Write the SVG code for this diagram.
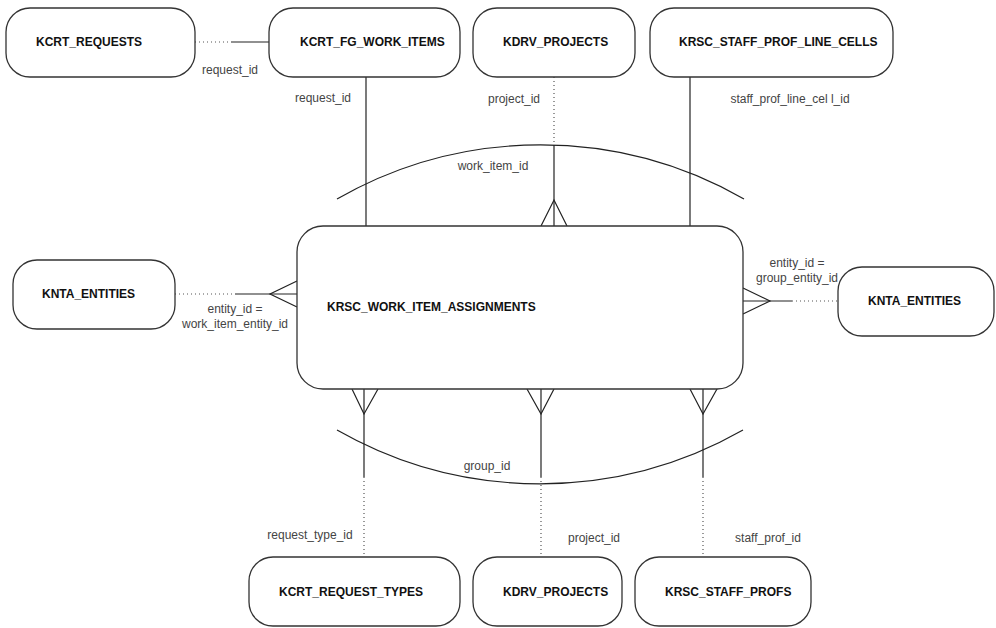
<svg xmlns="http://www.w3.org/2000/svg" width="996" height="628" viewBox="0 0 996 628">
<style>
.box{fill:#fff;stroke:#333;stroke-width:1.3}
.nt{font-family:"Liberation Sans",Arial,sans-serif;font-size:12px;font-weight:bold;fill:#111}
.lb{font-family:"Liberation Sans",Arial,sans-serif;font-size:12px;fill:#444}
.s{stroke:#222;stroke-width:1.2;fill:none}
.d{stroke:#555;stroke-width:1.2;fill:none;stroke-dasharray:1 3}
</style>
<rect width="996" height="628" fill="#fff"/>
<g id="connectors">
<line class="d" x1="195" y1="42" x2="231" y2="42"/>
<line class="s" x1="231" y1="42" x2="269" y2="42"/>
<line class="s" x1="366" y1="77" x2="366" y2="226"/>
<line class="d" x1="554" y1="77" x2="554" y2="145"/>
<line class="s" x1="554" y1="145" x2="554" y2="226"/>
<polyline class="s" points="541,226 554,200 567,226"/>
<line class="s" x1="690" y1="77" x2="690" y2="226"/>
<path class="s" d="M337,199 A410,410 0 0 1 744,199"/>
<line class="d" x1="175" y1="294" x2="235" y2="294"/>
<line class="s" x1="235" y1="294" x2="297" y2="294"/>
<polyline class="s" points="297,281 270,294 297,307"/>
<line class="s" x1="743" y1="301" x2="792" y2="301"/>
<line class="d" x1="792" y1="301" x2="838" y2="301"/>
<polyline class="s" points="743,288 770,301 743,314"/>
<line class="s" x1="364" y1="389" x2="364" y2="477"/>
<line class="d" x1="364" y1="477" x2="364" y2="557"/>
<polyline class="s" points="352,389 364,414 378,389"/>
<line class="s" x1="541" y1="389" x2="541" y2="477"/>
<line class="d" x1="541" y1="477" x2="541" y2="557"/>
<polyline class="s" points="527,389 541,414 554,389"/>
<line class="s" x1="703" y1="389" x2="703" y2="477"/>
<line class="d" x1="703" y1="477" x2="703" y2="557"/>
<polyline class="s" points="690,389 703,414 717,389"/>
<path class="s" d="M337,430 A410,410 0 0 0 743,430"/>
<text class="lb" x="230" y="74" text-anchor="middle">request_id</text>
<text class="lb" x="323" y="102" text-anchor="middle">request_id</text>
<text class="lb" x="514" y="103" text-anchor="middle">project_id</text>
<text class="lb" x="790" y="103" text-anchor="middle">staff_prof_line_cel l_id</text>
<text class="lb" x="493" y="170" text-anchor="middle">work_item_id</text>
<text class="lb" x="235" y="313" text-anchor="middle">entity_id =</text>
<text class="lb" x="235" y="328" text-anchor="middle">work_item_entity_id</text>
<text class="lb" x="797" y="267" text-anchor="middle">entity_id =</text>
<text class="lb" x="797" y="282" text-anchor="middle">group_entity_id</text>
<text class="lb" x="487" y="470" text-anchor="middle">group_id</text>
<text class="lb" x="310" y="539" text-anchor="middle">request_type_id</text>
<text class="lb" x="594" y="542" text-anchor="middle">project_id</text>
<text class="lb" x="768" y="542" text-anchor="middle">staff_prof_id</text>
</g>
<g id="kcrt_requests"><rect class="box" x="6" y="8" width="189" height="69" rx="24"/><text class="nt" x="36" y="46">KCRT_REQUESTS</text></g>
<g id="kcrt_fg_work_items"><rect class="box" x="269" y="8" width="191" height="69" rx="24"/><text class="nt" x="300" y="46">KCRT_FG_WORK_ITEMS</text></g>
<g id="kdrv_projects_top"><rect class="box" x="473" y="8" width="162" height="69" rx="24"/><text class="nt" x="503" y="46">KDRV_PROJECTS</text></g>
<g id="krsc_staff_prof_line_cells"><rect class="box" x="650" y="8" width="243" height="69" rx="24"/><text class="nt" x="679" y="46">KRSC_STAFF_PROF_LINE_CELLS</text></g>
<g id="knta_entities_left"><rect class="box" x="13" y="260" width="162" height="69" rx="24"/><text class="nt" x="42" y="298">KNTA_ENTITIES</text></g>
<g id="krsc_work_item_assignments"><rect class="box" x="297" y="226" width="446" height="163" rx="26"/><text class="nt" x="327" y="311">KRSC_WORK_ITEM_ASSIGNMENTS</text></g>
<g id="knta_entities_right"><rect class="box" x="838" y="267" width="156" height="69" rx="24"/><text class="nt" x="868" y="305">KNTA_ENTITIES</text></g>
<g id="kcrt_request_types"><rect class="box" x="249" y="557" width="211" height="69" rx="24"/><text class="nt" x="279" y="596">KCRT_REQUEST_TYPES</text></g>
<g id="kdrv_projects_bottom"><rect class="box" x="473" y="557" width="149" height="69" rx="24"/><text class="nt" x="503" y="596">KDRV_PROJECTS</text></g>
<g id="krsc_staff_profs"><rect class="box" x="635" y="557" width="176" height="69" rx="24"/><text class="nt" x="665" y="596">KRSC_STAFF_PROFS</text></g>
</svg>
